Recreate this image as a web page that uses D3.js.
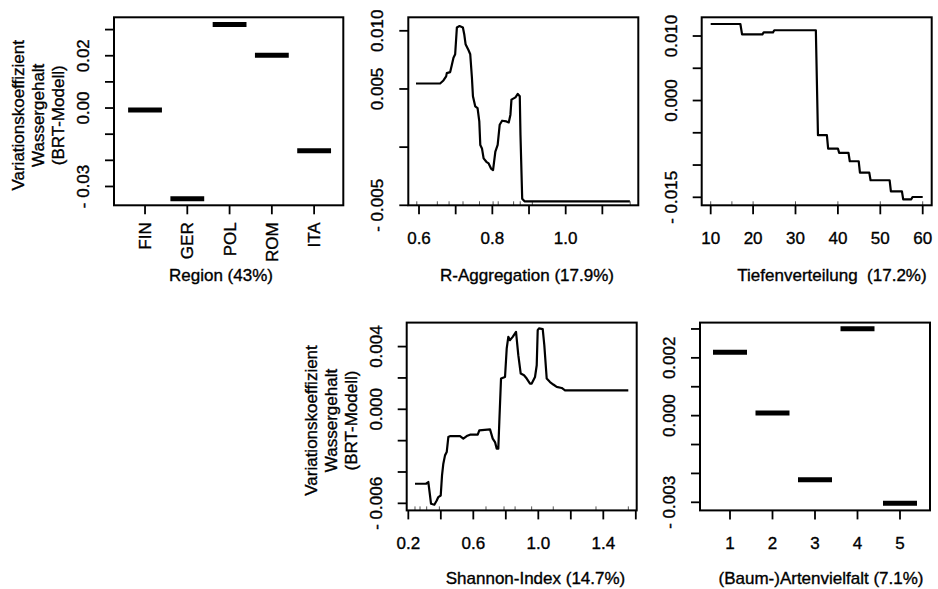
<!DOCTYPE html>
<html><head><meta charset="utf-8">
<script src="https://cdn.jsdelivr.net/npm/d3@7"></script>
<style>
html,body{margin:0;padding:0;background:#fff;}
svg text{font-family:"Liberation Sans",Arial,Helvetica,sans-serif;font-size:17px;fill:#000;stroke:#000;stroke-width:0.35px;white-space:pre;}
</style></head>
<body><svg id="c" width="938" height="589"></svg>
<script>
// ---------- DATA ----------
const yTitleLines = ["Variationskoeffizient","Wassergehalt","(BRT-Modell)"];

const regionCats = ["FIN","GER","POL","ROM","ITA"];
const regionVals = [-0.00076, -0.0347, 0.0319, 0.0202, -0.0163];
const regionYTicks = [-0.03,-0.02,-0.01,0,0.01,0.02,0.03];
const regionYLabels = ["- 0.03","","","0.00","","0.02",""];
const regionTitle = "Region (43%)";

const raggX = [0.5918,0.6575,0.6666,0.674,0.6758,0.685,0.6895,0.694,0.6986,0.7033,0.7105,0.7197,0.7233,0.727,0.7351,0.7397,0.7443,0.7471,0.7534,0.7597,0.7644,0.7671,0.7717,0.7762,0.7836,0.7899,0.7964,0.8019,0.8082,0.8145,0.82,0.8266,0.8384,0.8447,0.8493,0.8521,0.863,0.8693,0.8748,0.8767,0.8814,0.8877,1.175];
const raggY = [0.00547,0.00547,0.00573,0.00608,0.00636,0.00645,0.00706,0.00769,0.00798,0.01029,0.01041,0.01029,0.00971,0.00885,0.00833,0.00798,0.00596,0.00437,0.0035,0.00336,0.00221,0.00019,-0.00011,-0.00097,-0.00126,-0.0014,-0.00184,-0.00198,-0.00039,0.00019,0.00192,0.00227,0.00221,0.00212,0.00279,0.00408,0.00428,0.00457,0.00437,0.00105,-0.00444,-0.00466,-0.00466];
const raggRug = [0.594,0.650,0.682,0.720,0.765,0.802,0.816,0.858,0.876,0.909,1.176];
const raggXTicks = [0.6,0.7,0.8,0.9,1.0,1.1];
const raggXLabels = ["0.6","","0.8","","1.0",""];
const raggYTicks = [-0.005,0,0.005,0.010];
const raggYLabels = ["- 0.005","","0.005","0.010"];
const raggTitle = "R-Aggregation (17.9%)";

const tiefeX = [10,17.0,17.4,22.2,22.5,24.7,25.0,34.8,35.3,37.4,37.7,40.0,40.3,42.5,42.8,44.9,45.2,47.4,47.7,52.2,52.5,55.1,55.4,57.3,57.6,60];
const tiefeY = [0.01186,0.01186,0.01026,0.01026,0.01057,0.01057,0.01089,0.01089,-0.00537,-0.00537,-0.00744,-0.00744,-0.00812,-0.00812,-0.00941,-0.00941,-0.01117,-0.01117,-0.01236,-0.01236,-0.01407,-0.01407,-0.01531,-0.01531,-0.01495,-0.01495];
const tiefeRug = [10,15,20,30,40,50,60];
const tiefeXTicks = [10,20,30,40,50,60];
const tiefeXLabels = ["10","20","30","40","50","60"];
const tiefeYTicks = [-0.015,-0.010,-0.005,0,0.005,0.010];
const tiefeYLabels = ["- 0.015","","","0.000","","0.010"];
const tiefeTitle = "Tiefenverteilung  (17.2%)";

const shanX = [0.2412,0.3089,0.3231,0.3335,0.3397,0.36,0.3748,0.3846,0.3994,0.4074,0.4154,0.4258,0.4363,0.4462,0.4566,0.5182,0.5385,0.5594,0.5797,0.6271,0.6369,0.7028,0.7194,0.7335,0.744,0.7538,0.76,0.7705,0.7951,0.8055,0.8154,0.8258,0.8425,0.8628,0.8769,0.8917,0.912,0.9286,0.9489,0.9594,0.9797,0.9902,0.9963,1.0043,1.0271,1.0369,1.0517,1.072,1.0923,1.1132,1.144,1.1643,1.5538];
const shanY = [-0.00475,-0.00475,-0.00464,-0.0055,-0.00603,-0.00609,-0.00582,-0.0056,-0.0055,-0.00422,-0.00347,-0.00294,-0.00273,-0.00177,-0.00171,-0.00171,-0.00187,-0.00171,-0.00162,-0.00162,-0.00134,-0.00128,-0.00187,-0.00209,-0.00251,-0.00251,-0.00081,0.00196,0.00206,0.00388,0.00462,0.00441,0.00462,0.00494,0.00345,0.00228,0.00217,0.00196,0.00164,0.00164,0.00206,0.00281,0.00505,0.00516,0.00511,0.00409,0.00196,0.00174,0.00158,0.00143,0.00136,0.00121,0.00121];
const shanRug = [0.241,0.272,0.313,0.391,0.678,0.789,0.857,0.959,1.092,1.355,1.554];
const shanXTicks = [0.2,0.4,0.6,0.8,1.0,1.2,1.4,1.6];
const shanXLabels = ["0.2","","0.6","","1.0","","1.4",""];
const shanYTicks = [-0.006,-0.004,-0.002,0,0.002,0.004];
const shanYLabels = ["- 0.006","","","0.000","","0.004"];
const shanTitle = "Shannon-Index (14.7%)";

const artenCats = ["1","2","3","4","5"];
const artenVals = [0.00219, 0.00009, -0.00222, 0.00301, -0.00303];
const artenYTicks = [-0.003,-0.002,-0.001,0,0.001,0.002,0.003];
const artenYLabels = ["- 0.003","","","0.000","","0.002",""];
const artenTitle = "(Baum-)Artenvielfalt (7.1%)";

// ---------- LAYOUT ----------
const svg = d3.select("#c");
const TL = 9; // tick length

function panel(o) {
  const g = svg.append("g");
  const x = d3.scaleLinear().domain(o.xd).range([o.l, o.r]);
  const y = d3.scaleLinear().domain(o.yd).range([o.b, o.t]);
  o.yTicks.forEach((t, i) => {
    g.append("line").attr("x1", o.l - TL).attr("x2", o.l).attr("y1", y(t)).attr("y2", y(t))
      .attr("stroke", "#000").attr("stroke-width", 1.8);
    if (o.yLabels[i]) {
      g.append("text").attr("transform", `translate(${o.l - 25},${y(t)}) rotate(-90)`)
        .attr("text-anchor", "middle").text(o.yLabels[i]);
    }
  });
  o.xTicks.forEach((t, i) => {
    g.append("line").attr("x1", x(t)).attr("x2", x(t)).attr("y1", o.b).attr("y2", o.b + TL)
      .attr("stroke", "#000").attr("stroke-width", 1.8);
    if (o.xLabels[i]) {
      if (o.rotX) {
        g.append("text").attr("transform", `translate(${x(t)},${o.b + 17}) rotate(-90)`)
          .attr("text-anchor", "end").attr("dy", "0.36em").text(o.xLabels[i]);
      } else {
        g.append("text").attr("x", x(t)).attr("y", o.b + 39).attr("text-anchor", "middle").text(o.xLabels[i]);
      }
    }
  });
  if (o.rug) {
    o.rug.forEach(r => g.append("line").attr("x1", x(r)).attr("x2", x(r)).attr("y1", o.b).attr("y2", o.b - 4)
      .attr("stroke", "#555").attr("stroke-width", 1));
  }
  if (o.lx) {
    const line = d3.line().x((d, i) => x(o.lx[i])).y((d, i) => y(o.ly[i]));
    g.append("path").attr("d", line(o.lx)).attr("fill", "none").attr("stroke", "#000")
      .attr("stroke-width", 2.2).attr("stroke-linejoin", "round");
  }
  if (o.bars) {
    o.bars.forEach((v, i) => g.append("line").attr("x1", x(i + 1 - 0.4)).attr("x2", x(i + 1 + 0.4))
      .attr("y1", y(v)).attr("y2", y(v)).attr("stroke", "#000").attr("stroke-width", 5));
  }
  g.append("rect").attr("x", o.l).attr("y", o.t).attr("width", o.r - o.l).attr("height", o.b - o.t)
    .attr("fill", "none").attr("stroke", "#000").attr("stroke-width", 2);
  g.append("text").attr("x", o.tx).attr("y", o.ty).attr("text-anchor", "middle").text(o.title);
  if (o.yTitle) {
    const cy = (o.t + o.b) / 2 + 4;
    yTitleLines.forEach((s, i) => {
      g.append("text").attr("transform", `translate(${o.l - 90 + i * 20},${cy}) rotate(-90)`)
        .attr("text-anchor", "middle").text(s);
    });
  }
}

const row1 = {t: 17.3, b: 205.3};
const row2 = {t: 322.6, b: 510.4};

panel({l: 114, r: 343.3, ...row1, xd: [0.266, 5.69], yd: [-0.0372, 0.0347],
  xTicks: [1,2,3,4,5], xLabels: regionCats, rotX: true,
  yTicks: regionYTicks, yLabels: regionYLabels, bars: regionVals,
  title: regionTitle, tx: 221, ty: 281, yTitle: true});

panel({l: 408.3, r: 638.3, ...row1, xd: [0.5708, 1.198], yd: [-0.005, 0.01116],
  xTicks: raggXTicks, xLabels: raggXLabels, yTicks: raggYTicks, yLabels: raggYLabels,
  lx: raggX, ly: raggY, rug: raggRug, title: raggTitle, tx: 527, ty: 281});

panel({l: 701.7, r: 931.7, ...row1, xd: [7.88, 62.12], yd: [-0.01624, 0.0129],
  xTicks: tiefeXTicks, xLabels: tiefeXLabels, yTicks: tiefeYTicks, yLabels: tiefeYLabels,
  lx: tiefeX, ly: tiefeY, rug: tiefeRug, title: tiefeTitle, tx: 832, ty: 281});

panel({l: 406.7, r: 636.7, ...row2, xd: [0.190, 1.6055], yd: [-0.00645, 0.00553],
  xTicks: shanXTicks, xLabels: shanXLabels, yTicks: shanYTicks, yLabels: shanYLabels,
  lx: shanX, ly: shanY, rug: shanRug, title: shanTitle, tx: 535.5, ty: 584, yTitle: true});

panel({l: 700, r: 930, ...row2, xd: [0.294, 5.706], yd: [-0.00328, 0.00322],
  xTicks: [1,2,3,4,5], xLabels: artenCats, yTicks: artenYTicks, yLabels: artenYLabels,
  bars: artenVals, title: artenTitle, tx: 821, ty: 584});
</script></body></html>
